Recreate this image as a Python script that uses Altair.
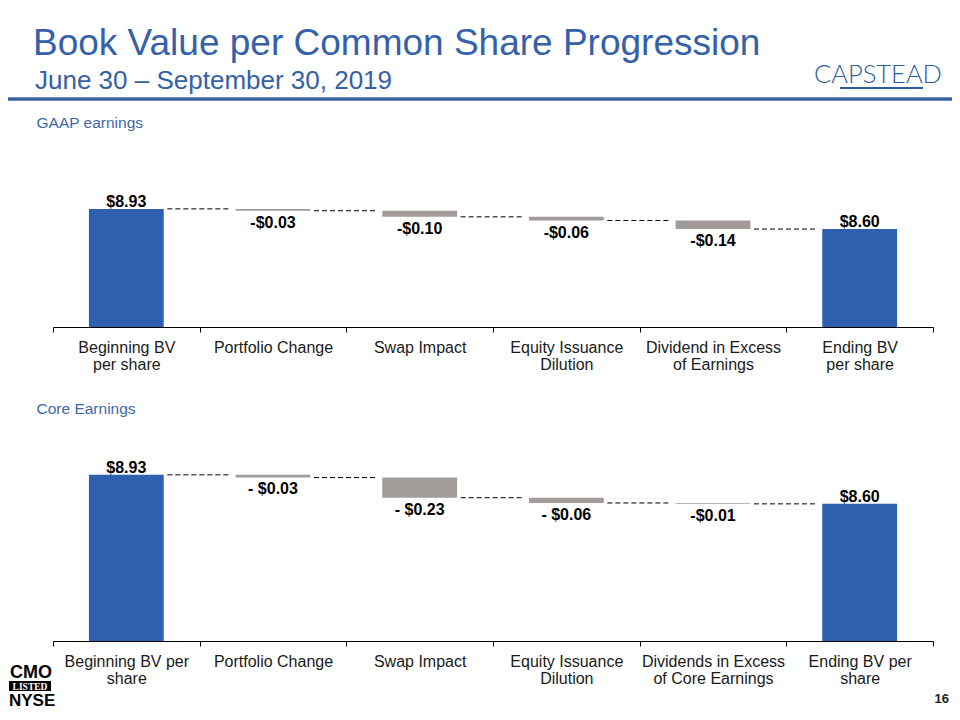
import altair as alt
import pandas as pd

# ---------------- data ----------------
gaap_categories = ["Beginning BV|per share", "Portfolio Change", "Swap Impact",
                   "Equity Issuance|Dilution", "Dividend in Excess|of Earnings",
                   "Ending BV|per share"]
gaap_values = [8.93, -0.03, -0.10, -0.06, -0.14, 8.60]
gaap_labels = ["$8.93", "-$0.03", "-$0.10", "-$0.06", "-$0.14", "$8.60"]

core_categories = ["Beginning BV per|share", "Portfolio Change", "Swap Impact",
                   "Equity Issuance|Dilution", "Dividends in Excess|of Core Earnings",
                   "Ending BV per|share"]
core_values = [8.93, -0.03, -0.23, -0.06, -0.01, 8.60]
core_labels = ["$8.93", "- $0.03", "- $0.23", "- $0.06", "-$0.01", "$8.60"]

is_total = [True, False, False, False, False, True]

# ---------------- style ----------------
FONT = "Liberation Sans"
BLUE = "#2F60B0"
GRAY = "#A19C9A"
HEAD_BLUE = "#3461A8"
W, H = 944, 704


def waterfall(cats, vals, labels, y_domain, y_range, axis_offset):
    rows = []
    running = None
    for c, v, lab, tot in zip(cats, vals, labels, is_total):
        if tot:
            low, high = y_domain[0], v
            running = v
        else:
            start = running
            end = round(running + v, 4)
            low, high = min(start, end), max(start, end)
            running = end
        rows.append(dict(cat=c, low=low, high=high, label=lab,
                         kind="total" if tot else "delta", level=running))
    df = pd.DataFrame(rows)
    conn = pd.DataFrame({"cat": cats[:-1], "next": cats[1:],
                         "level": list(df["level"][:-1])})

    def xs():
        return alt.Scale(domain=cats, range=[45, 925], paddingInner=0, paddingOuter=0)

    def ys():
        return alt.Scale(domain=y_domain, range=y_range, zero=False, nice=False)

    bars = alt.Chart(df).mark_bar(width={"band": 0.51}).encode(
        x=alt.X("cat:N", sort=None, scale=xs(),
                axis=alt.Axis(orient="bottom", offset=axis_offset, title=None,
                              labelAngle=0, labelFont=FONT, labelFontSize=16,
                              labelColor="#1a1a1a", labelPadding=7,
                              labelLineHeight=17, labelLimit=300,
                              labelExpr="split(datum.label, '|')",
                              domainColor="#000000", domainWidth=1,
                              tickColor="#000000", tickSize=5, tickBand="extent",
                              grid=False)),
        y=alt.Y("high:Q", scale=ys(), axis=None),
        y2="low:Q",
        color=alt.Color("kind:N", scale=alt.Scale(domain=["total", "delta"],
                                                  range=[BLUE, GRAY]), legend=None),
    )

    connectors = alt.Chart(conn).mark_rule(
        strokeDash=[5, 3], color="#000000", strokeWidth=1, xOffset=41, x2Offset=-43
    ).encode(
        x=alt.X("cat:N", sort=None, scale=xs(), axis=None),
        x2="next:N",
        y=alt.Y("level:Q", scale=ys(), axis=None),
    )

    total_text = alt.Chart(df[df["kind"] == "total"]).mark_text(
        font=FONT, fontSize=16, fontWeight="bold", color="#000000",
        baseline="alphabetic", dy=-2
    ).encode(
        x=alt.X("cat:N", sort=None, scale=xs(), axis=None),
        y=alt.Y("high:Q", scale=ys(), axis=None),
        text="label:N",
    )

    delta_text = alt.Chart(df[df["kind"] == "delta"]).mark_text(
        font=FONT, fontSize=16, fontWeight="bold", color="#000000",
        baseline="top", dy=4
    ).encode(
        x=alt.X("cat:N", sort=None, scale=xs(), axis=None),
        y=alt.Y("low:Q", scale=ys(), axis=None),
        text="label:N",
    )

    return [bars, connectors, total_text, delta_text]


top = waterfall(gaap_categories, gaap_values, gaap_labels,
                [7.0, 9.0], [319, 196.6], 319 - H)
bottom = waterfall(core_categories, core_values, core_labels,
                   [7.04, 9.0], [633, 460.7], 633 - H)

one = pd.DataFrame({"k": [0]})


def text_item(txt, x, y, size, color, weight="normal", font=FONT, align="left"):
    return alt.Chart(pd.DataFrame({"t": [txt]})).mark_text(
        font=font, fontSize=size, fontWeight=weight, color=color,
        align=align, baseline="alphabetic"
    ).encode(x=alt.value(x), y=alt.value(y), text="t:N")


decor = [
    text_item("Book Value per Common Share Progression", 25, 47, 37, HEAD_BLUE),
    text_item("June 30 \u2013 September 30, 2019", 27, 81, 26, HEAD_BLUE),
    alt.Chart(one).mark_rule(color="#3A64A0", strokeWidth=3.5).encode(
        x=alt.value(0), x2=alt.value(W), y=alt.value(91)),
    text_item("CAPSTEAD", 806, 75, 25.5, "#2F5C9C", weight=300, font="Lato"),
    alt.Chart(one).mark_rule(color="#2F5C9C", strokeWidth=2).encode(
        x=alt.value(832), x2=alt.value(915), y=alt.value(80)),
    text_item("GAAP earnings", 28.5, 120, 15.5, "#3E68A8"),
    text_item("Core Earnings", 28.5, 406, 15.5, "#3E68A8"),
    text_item("16", 941, 695, 13, "#222222", weight="bold", align="right"),
    text_item("CMO", 2, 670, 18, "#000000", weight="bold"),
    alt.Chart(one).mark_rect(color="#000000").encode(
        x=alt.value(1), x2=alt.value(43), y=alt.value(673), y2=alt.value(683)),
    text_item("LISTED", 22, 681.5, 9.5, "#ffffff", weight="bold",
              font="Liberation Serif", align="center"),
    text_item("NYSE", 1, 698, 17, "#000000", weight="bold"),
]

chart = alt.layer(*top, *bottom, *decor).resolve_scale(
    x="independent", y="independent", color="independent"
).properties(
    width=W, height=H, autosize="none", padding=0
).configure_view(stroke=None)

chart.save("out.html", embed_options={"renderer": "svg", "actions": False})
